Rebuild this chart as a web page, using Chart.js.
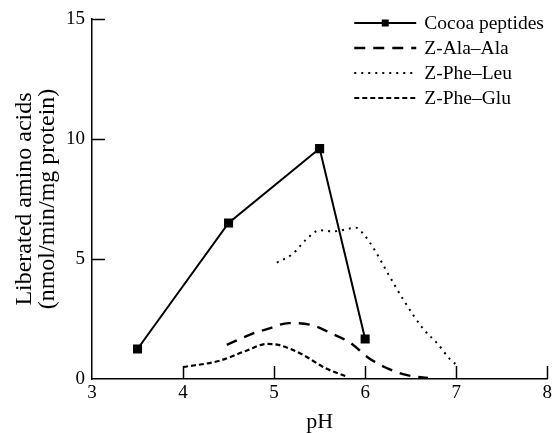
<!DOCTYPE html>
<html>
<head>
<meta charset="utf-8">
<script src="https://cdn.jsdelivr.net/npm/chart.js@4.4.1/dist/chart.umd.min.js"></script>
<style>
  html, body { margin: 0; padding: 0; background: #fff; }
  #wrap { width: 555px; height: 433px; }
</style>
</head>
<body>
<div id="wrap"><canvas id="c"></canvas></div>
<script>
// values
const xTicks = [3, 4, 5, 6, 7, 8];
const yTicks = [0, 5, 10, 15];
const seriesNames = ['Cocoa peptides', 'Z-Ala–Ala', 'Z-Phe–Leu', 'Z-Phe–Glu'];

const cocoaPH = [3.5, 4.5, 5.5, 6.0];
const cocoaRate = [1.25, 6.5, 9.6, 1.67];

const alaPH = [4.48, 4.77, 4.94, 5.16, 5.41, 5.63, 5.84, 6.03, 6.23, 6.45, 6.69];
const alaRate = [1.42, 1.9, 2.1, 2.33, 2.25, 1.9, 1.5, 0.9, 0.47, 0.17, 0.04];

const leuPH = [5.03, 5.2, 5.35, 5.5, 5.65, 5.9, 6.0, 6.1, 6.25, 6.42, 6.64, 6.8, 6.93, 7.0];
const leuRate = [4.85, 5.2, 5.8, 6.2, 6.15, 6.3, 5.95, 5.4, 4.4, 3.3, 2.08, 1.45, 0.83, 0.6];

const gluPH = [4.0, 4.39, 4.69, 4.92, 5.05, 5.3, 5.56, 5.81];
const gluRate = [0.5, 0.75, 1.17, 1.46, 1.42, 1.04, 0.46, 0.08];

const serif = "'Liberation Serif', 'DejaVu Serif', serif";

function pairs(xs, ys) {
    let out = [];
    for (let i = 0; i < xs.length; i++) {
        out.push({ x: xs[i], y: ys[i] });
    }
    return out;
}

// inward tick marks, like the printed figure
const paperTicks = {
    id: 'paperTicks',
    afterDraw(chart) {
        const { ctx, scales: { x, y } } = chart;
        ctx.save();
        ctx.strokeStyle = '#000';
        ctx.lineWidth = 1.5;
        for (let v of xTicks.slice(1)) {
            const px = Math.round(x.getPixelForValue(v)) + 0.5;
            ctx.beginPath();
            ctx.moveTo(px, y.bottom);
            ctx.lineTo(px, y.bottom - 13);
            ctx.stroke();
        }
        for (let v of yTicks.slice(1)) {
            const py = Math.round(y.getPixelForValue(v)) + 0.5;
            ctx.beginPath();
            ctx.moveTo(x.left, py);
            ctx.lineTo(x.left + 13, py);
            ctx.stroke();
        }
        ctx.restore();
    }
};

// legend block in the top right corner
const paperLegend = {
    id: 'paperLegend',
    afterDraw(chart) {
        const { ctx, chartArea } = chart;
        const x0 = chartArea.right - 193;
        const x1 = chartArea.right - 131;
        ctx.save();
        chart.data.datasets.forEach((ds, i) => {
            const yy = chartArea.top + 4 + i * 25;
            ctx.strokeStyle = '#000';
            ctx.lineWidth = ds.borderWidth;
            ctx.setLineDash(ds.borderDash || []);
            ctx.beginPath();
            ctx.moveTo(x0, yy);
            ctx.lineTo(x1, yy);
            ctx.stroke();
            ctx.setLineDash([]);
            if (ds.pointRadius > 0) {
                ctx.fillStyle = '#000';
                ctx.fillRect((x0 + x1) / 2 - 3.5, yy - 3.5, 7, 7);
            }
            ctx.fillStyle = '#000';
            ctx.font = "19.5px " + serif;
            ctx.textBaseline = 'middle';
            ctx.textAlign = 'left';
            ctx.fillText(ds.label, chartArea.right - 123, yy + 1);
        });
        ctx.restore();
    }
};

new Chart(document.getElementById('c'), {
    type: 'line',
    data: {
        datasets: [
            {
                label: seriesNames[0],
                data: pairs(cocoaPH, cocoaRate),
                borderColor: '#000',
                backgroundColor: '#000',
                borderWidth: 2,
                pointStyle: 'rect',
                pointRadius: 5,
                tension: 0
            },
            {
                label: seriesNames[1],
                data: pairs(alaPH, alaRate),
                borderColor: '#000',
                borderWidth: 2.4,
                borderDash: [11, 8],
                pointRadius: 0,
                cubicInterpolationMode: 'monotone'
            },
            {
                label: seriesNames[2],
                data: pairs(leuPH, leuRate),
                borderColor: '#000',
                borderWidth: 2,
                borderDash: [2, 5],
                pointRadius: 0,
                cubicInterpolationMode: 'monotone'
            },
            {
                label: seriesNames[3],
                data: pairs(gluPH, gluRate),
                borderColor: '#000',
                borderWidth: 2.2,
                borderDash: [5, 3],
                pointRadius: 0,
                cubicInterpolationMode: 'monotone'
            }
        ]
    },
    options: {
        responsive: true,
        maintainAspectRatio: false,
        animation: false,
        clip: false,
        layout: { padding: { top: 19, right: 7, left: 0, bottom: 0 } },
        plugins: {
            legend: { display: false },
            tooltip: { enabled: false }
        },
        scales: {
            x: {
                type: 'linear',
                min: 3,
                max: 8,
                afterBuildTicks: s => { s.ticks = xTicks.map(v => ({ value: v })); },
                afterFit: s => { s.height = 54; },
                grid: { display: false, drawTicks: false },
                border: { display: true, color: '#000', width: 1.5 },
                ticks: { color: '#000', font: { family: serif, size: 19 }, padding: 3, maxRotation: 0 },
                title: {
                    display: true,
                    text: 'pH',
                    color: '#000',
                    font: { family: serif, size: 22, lineHeight: 1 },
                    padding: { top: 0, bottom: 0 }
                }
            },
            y: {
                min: 0,
                max: 15,
                afterBuildTicks: s => { s.ticks = yTicks.map(v => ({ value: v })); },
                afterFit: s => { s.width = 92; },
                grid: { display: false, drawTicks: false },
                border: { display: true, color: '#000', width: 1.5 },
                ticks: { color: '#000', font: { family: serif, size: 19 }, padding: 7 },
                title: {
                    display: true,
                    text: ['Liberated amino acids', '(nmol/min/mg protein)'],
                    color: '#000',
                    font: { family: serif, size: 24, lineHeight: 0.96 },
                    padding: { top: 13, bottom: 0 }
                }
            }
        }
    },
    plugins: [paperTicks, paperLegend]
});
</script>
</body>
</html>
